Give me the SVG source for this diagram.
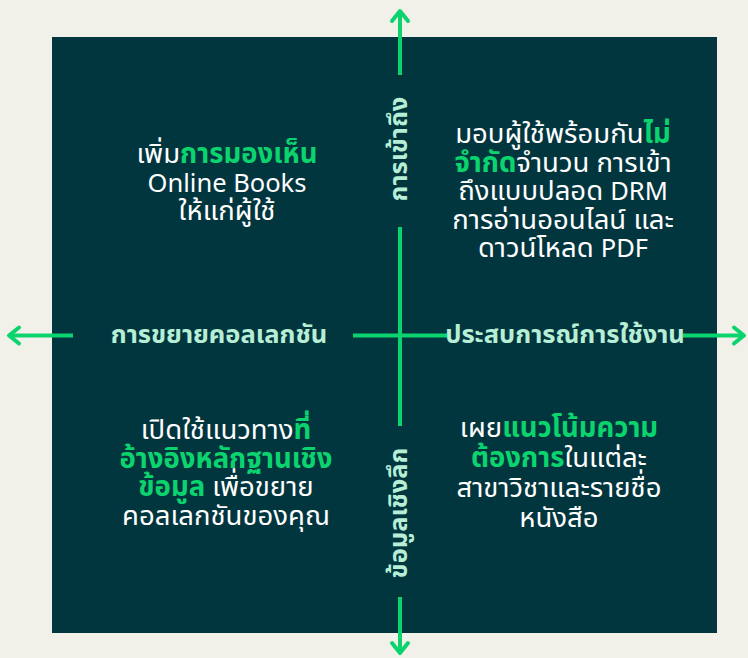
<svg xmlns="http://www.w3.org/2000/svg" width="748" height="658" viewBox="0 0 748 658">
<defs>
<style>
.body{font-family:"Noto Sans","Noto Sans Thai","Liberation Sans",sans-serif;font-size:27.5px;fill:#ffffff;text-anchor:middle}
.lat{font-size:25.5px}
.hl{fill:#0BD46E;font-weight:bold}
.axis{font-family:"Noto Sans","Noto Sans Thai","Liberation Sans",sans-serif;font-size:25.5px;font-weight:bold;fill:#B7EED6;text-anchor:middle}
.ln{stroke:#0BD46E;stroke-width:4;fill:none}
.hd{stroke:#0BD46E;stroke-width:4;fill:none;stroke-linecap:round;stroke-linejoin:round}
</style>
</defs>
<rect width="748" height="658" fill="#F1F0E9"/>
<rect id="panel" x="52" y="37" width="665" height="596" fill="#02363F"/>
<g id="connectors">
<line class="ln" x1="400" y1="75" x2="400" y2="12"/>
<polyline class="hd" points="392,21 400,11 408,21"/>
<line class="ln" x1="400" y1="227" x2="400" y2="426"/>
<line class="ln" x1="400" y1="597" x2="400" y2="653"/>
<polyline class="hd" points="392,643 400,653 408,643"/>
<line class="ln" x1="73" y1="335.5" x2="11" y2="335.5"/>
<polyline class="hd" points="19,327.5 9,335.5 19,343.5"/>
<line class="ln" x1="353" y1="335.5" x2="447" y2="335.5"/>
<line class="ln" x1="683" y1="335.5" x2="742" y2="335.5"/>
<polyline class="hd" points="734,327.5 744,335.5 734,343.5"/>
</g>
<g id="axis-top"><text class="axis" transform="translate(407,149) rotate(-90)">การเข้าถึง</text></g>
<g id="axis-bottom"><text class="axis" transform="translate(407,513) rotate(-90)">ข้อมูลเชิงลึก</text></g>
<g id="axis-left"><text class="axis" x="219" y="343">การขยายคอลเลกชัน</text></g>
<g id="axis-right"><text class="axis" x="565" y="343">ประสบการณ์การใช้งาน</text></g>
<g id="q-top-left">
<text class="body" x="227" y="163">เพิ่ม<tspan class="hl">การมองเห็น</tspan></text>
<text class="body" x="227" y="192"><tspan class="lat">Online Books</tspan></text>
<text class="body" x="227" y="220">ให้แก่ผู้ใช้</text>
</g>
<g id="q-top-right">
<text class="body" x="563" y="143">มอบผู้ใช้พร้อมกัน<tspan class="hl">ไม่</tspan></text>
<text class="body" x="563" y="171.5"><tspan class="hl">จำกัด</tspan>จำนวน การเข้า</text>
<text class="body" x="563" y="200">ถึงแบบปลอด <tspan class="lat">DRM</tspan></text>
<text class="body" x="563" y="228.5">การอ่านออนไลน์ และ</text>
<text class="body" x="563" y="257">ดาวน์โหลด <tspan class="lat">PDF</tspan></text>
</g>
<g id="q-bottom-left">
<text class="body" x="226" y="439">เปิดใช้แนวทาง<tspan class="hl">ที่</tspan></text>
<text class="body" x="226" y="467.5"><tspan class="hl">อ้างอิงหลักฐานเชิง</tspan></text>
<text class="body" x="226" y="496"><tspan class="hl">ข้อมูล</tspan> เพื่อขยาย</text>
<text class="body" x="226" y="525">คอลเลกชันของคุณ</text>
</g>
<g id="q-bottom-right">
<text class="body" x="559" y="437">เผย<tspan class="hl">แนวโน้มความ</tspan></text>
<text class="body" x="559" y="467"><tspan class="hl">ต้องการ</tspan>ในแต่ละ</text>
<text class="body" x="559" y="497">สาขาวิชาและรายชื่อ</text>
<text class="body" x="559" y="527">หนังสือ</text>
</g>
</svg>
